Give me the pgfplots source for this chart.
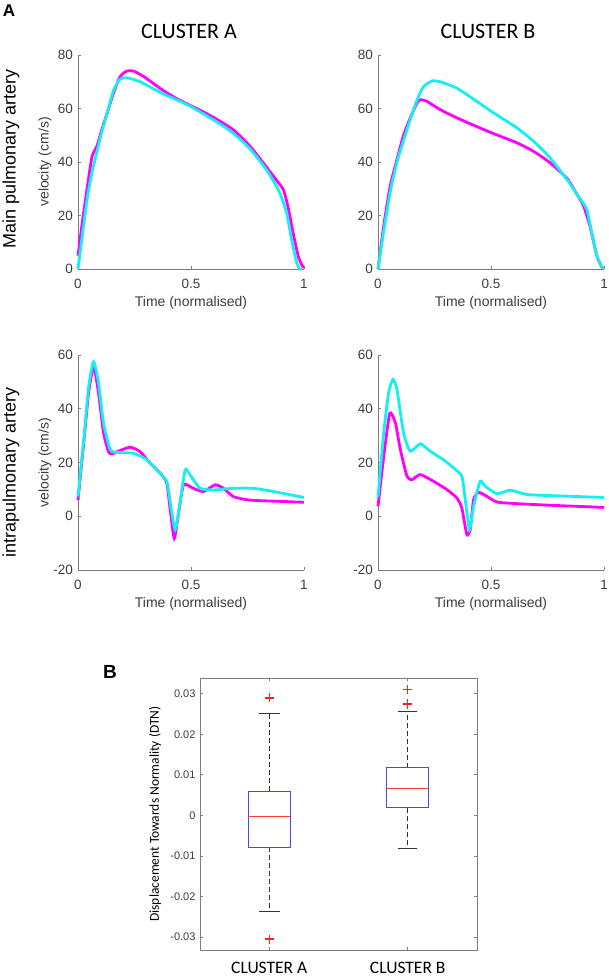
\documentclass[border=0pt]{standalone}
\usepackage{pgfplots}
\pgfplotsset{compat=1.18}
\usepackage{fontspec}
\setmainfont{Liberation Sans}
\newfontfamily\carl{Carlito}
\definecolor{mag}{RGB}{255,0,255}
\definecolor{cya}{RGB}{20,240,240}
\definecolor{axgray}{RGB}{125,125,125}
\definecolor{txgray}{RGB}{60,60,60}
\definecolor{boxblue}{RGB}{70,70,255}
\definecolor{medred}{RGB}{255,60,60}
\definecolor{outred}{RGB}{255,30,30}
\pgfplotsset{
  wave/.style={
    scale only axis, width=226pt, height=214pt,
    xmin=0, xmax=1, xtick={0,0.5,1},
    axis x line*=bottom, axis y line*=left,
    tick align=inside, major tick length=3pt,
    axis line style={axgray, line width=0.9pt}, tick style={axgray, line width=0.9pt},
    /pgf/number format/assume math mode=true,
    ticklabel style={font=\fontsize{13.5}{14}\selectfont, text=txgray},
    xticklabel style={anchor=center, yshift=-15pt},
    yticklabel style={anchor=east, xshift=-1.5pt},
    xlabel={Time (normalised)},
    xlabel style={font=\fontsize{14}{15}\selectfont, text=txgray, at={(axis description cs:0.5,0)}, anchor=center, yshift=-34pt},
    ylabel style={font=\fontsize{14}{15}\selectfont, text=txgray, at={(axis description cs:0,0.5)}, anchor=center, yshift=33pt},
    clip=false,
  },
  mline/.style={mag, line width=2.8pt, smooth, tension=0.35},
  cline/.style={cya, line width=2.8pt, smooth, tension=0.35},
}
\begin{document}
\begin{tikzpicture}
\useasboundingbox (0pt,0pt) rectangle (609pt,-978pt);
\node[font=\fontsize{17}{17}\selectfont\bfseries] at (9pt,-11pt) {A};
\node[font=\carl\fontsize{22}{22}\selectfont] at (189pt,-31pt) {CLUSTER A};
\node[font=\carl\fontsize{22}{22}\selectfont] at (488pt,-31pt) {CLUSTER B};
\node[rotate=90, font=\fontsize{18}{18}\selectfont] at (11pt,-159pt) {Main pulmonary artery};
\node[rotate=90, font=\fontsize{18}{18}\selectfont] at (11pt,-472pt) {intrapulmonary artery};

% Top-left
\begin{axis}[wave, at={(78pt,-269pt)}, anchor=south west, ymin=0, ymax=80, ytick={0,20,40,60,80}, ylabel={velocity (cm/s)}]
\addplot[mline] coordinates {(0,5) (0.02,18) (0.04,30) (0.062,42) (0.084,46) (0.105,52) (0.128,58) (0.158,66) (0.187,72) (0.216,74) (0.246,74) (0.29,72) (0.364,67.5) (0.43,64) (0.5,61) (0.56,58.5) (0.614,56) (0.688,52) (0.76,46) (0.835,38) (0.88,33) (0.909,29.6) (0.93,23) (0.953,13) (0.975,4.7) (0.99,1.6) (1,0.4)};
\addplot[cline] coordinates {(0,0) (0.02,13) (0.04,26) (0.062,36) (0.1,49.5) (0.128,58) (0.158,67) (0.187,71) (0.216,71.5) (0.275,70) (0.364,66) (0.43,63.5) (0.5,60.7) (0.614,55) (0.688,50.7) (0.76,45) (0.835,37) (0.89,29) (0.923,21) (0.945,11) (0.968,2.2) (0.982,0) (0.99,0)};
\end{axis}

% Top-right
\begin{axis}[wave, at={(378pt,-269pt)}, anchor=south west, ymin=0, ymax=80, ytick={0,20,40,60,80}]
\addplot[mline] coordinates {(0,0) (0.025,16) (0.054,31) (0.084,41) (0.113,50) (0.143,56.5) (0.172,62) (0.187,63.3) (0.216,62.7) (0.275,59.6) (0.349,56.5) (0.43,53.5) (0.5,51) (0.614,47.2) (0.688,44) (0.76,39.8) (0.835,34) (0.88,28) (0.909,23.7) (0.938,16) (0.968,5) (0.99,0.8) (1,0.3)};
\addplot[cline] coordinates {(0,0) (0.025,14) (0.054,28.7) (0.084,40) (0.113,48) (0.143,56) (0.172,63) (0.2,68) (0.239,70.3) (0.275,70) (0.349,67.6) (0.437,62.7) (0.5,59) (0.614,52.8) (0.688,47.8) (0.76,41.7) (0.835,33.6) (0.88,28) (0.923,22.5) (0.945,13.8) (0.968,5.2) (0.99,0.9) (1,0.3)};
\end{axis}

% Bottom-left
\begin{axis}[wave, at={(78pt,-570pt)}, anchor=south west, height=215pt, ymin=-20, ymax=60, ytick={-20,0,20,40,60}, ylabel={velocity (cm/s)}]
\addplot[mline] coordinates {(0,6) (0.025,27) (0.047,46) (0.069,55.7) (0.091,45.8) (0.113,31) (0.135,24) (0.15,23.2) (0.172,24) (0.231,25.7) (0.275,24) (0.32,19.7) (0.364,16) (0.393,12.3) (0.408,2.4) (0.426,-8.2) (0.445,1.1) (0.467,11.7) (0.51,10.4) (0.555,9.2) (0.607,11.7) (0.644,10.4) (0.688,7.3) (0.76,6) (0.909,5.5) (1,5.2)};
\addplot[cline] coordinates {(0,7.3) (0.025,28) (0.047,48) (0.069,57.5) (0.091,49.6) (0.113,34.6) (0.143,24.7) (0.172,23.8) (0.246,23.4) (0.305,21) (0.349,17.2) (0.393,12.9) (0.411,3.6) (0.43,-5) (0.449,3.6) (0.474,17.2) (0.496,15.4) (0.54,10.4) (0.6,9.8) (0.688,10.4) (0.776,10.4) (0.865,9.2) (1,7)};
\end{axis}

% Bottom-right
\begin{axis}[wave, at={(378pt,-570pt)}, anchor=south west, height=215pt, ymin=-20, ymax=60, ytick={-20,0,20,40,60}]
\addplot[mline] coordinates {(0,3.7) (0.025,22) (0.052,38.3) (0.077,34.7) (0.099,24.8) (0.128,14.9) (0.15,13.6) (0.187,15.5) (0.246,13) (0.305,9.9) (0.349,6.8) (0.371,3.1) (0.393,-6.8) (0.408,-5) (0.423,6.2) (0.445,8.9) (0.482,7.4) (0.526,5.3) (0.614,4.7) (0.76,4.1) (1,3.3)};
\addplot[cline] coordinates {(0,7.2) (0.025,31) (0.047,45.9) (0.066,50.9) (0.084,47.1) (0.113,31) (0.143,24.2) (0.187,27) (0.231,24.2) (0.29,21) (0.334,18) (0.371,14.9) (0.386,6.2) (0.405,-5) (0.423,3.7) (0.452,13) (0.474,11.2) (0.526,8.4) (0.585,9.7) (0.658,8.1) (0.76,7.7) (1,7)};
\end{axis}

% Box plot
\node[font=\fontsize{19}{19}\selectfont\bfseries] at (110pt,-672pt) {B};
\begin{axis}[
  at={(200pt,-950pt)}, anchor=south west,
  scale only axis, width=277pt, height=272pt,
  xmin=0.5, xmax=2.5, ymin=-0.0332, ymax=0.0339,
  scaled y ticks=false,
  xtick={1,2}, xticklabels={CLUSTER A, CLUSTER B},
  ytick={-0.03,-0.02,-0.01,0,0.01,0.02,0.03},
  yticklabels={-0.03,-0.02,-0.01,0,0.01,0.02,0.03},
  tick align=inside, major tick length=3pt,
  axis line style={axgray, line width=0.9pt}, tick style={axgray, line width=0.9pt},
  xticklabel style={font=\carl\fontsize{17.5}{18}\selectfont, anchor=center, yshift=-18pt},
  yticklabel style={font=\fontsize{11}{12}\selectfont, text=txgray, anchor=east, xshift=-1pt},
  ylabel={Displacement Towards Normality (DTN)},
  ylabel style={font=\carl\fontsize{13.5}{14}\selectfont, at={(axis description cs:0,0.5)}, anchor=center, yshift=45pt},
  whisk/.style={black!80, line width=0.8pt, dash pattern=on 5pt off 3pt},
  cap/.style={black!80, line width=0.9pt},
  bx/.style={boxblue, line width=1pt, line join=miter},
  med/.style={medred, line width=1pt},
  outl/.style={only marks, mark=+, mark size=4.5pt, color=outred, mark options={draw=outred, solid, line width=1.4pt}},
]
% Cluster A
\addplot[whisk] coordinates {(1,0.006) (1,0.0252)};
\addplot[whisk] coordinates {(1,-0.0078) (1,-0.0238)};
\addplot[cap] coordinates {(0.925,0.0252) (1.075,0.0252)};
\addplot[cap] coordinates {(0.925,-0.0238) (1.075,-0.0238)};
\addplot[bx] coordinates {(0.85,-0.0078) (1.15,-0.0078) (1.15,0.006) (0.85,0.006) (0.85,-0.0078)} --cycle;
\addplot[med] coordinates {(0.85,-0.0002) (1.15,-0.0002)};
\addplot[outl] coordinates {(1,0.029) (1,-0.0305)};
% Cluster B
\addplot[whisk] coordinates {(2,0.0118) (2,0.0256)};
\addplot[whisk] coordinates {(2,0.0019) (2,-0.0082)};
\addplot[cap] coordinates {(1.93,0.0256) (2.07,0.0256)};
\addplot[cap] coordinates {(1.93,-0.0082) (2.07,-0.0082)};
\addplot[bx] coordinates {(1.85,0.0019) (2.15,0.0019) (2.15,0.0118) (1.85,0.0118) (1.85,0.0019)} --cycle;
\addplot[med] coordinates {(1.85,0.0066) (2.15,0.0066)};
\addplot[outl] coordinates {(2,0.031) (2,0.0276) (2,0.0273)};
\end{axis}
\end{tikzpicture}
\end{document}
